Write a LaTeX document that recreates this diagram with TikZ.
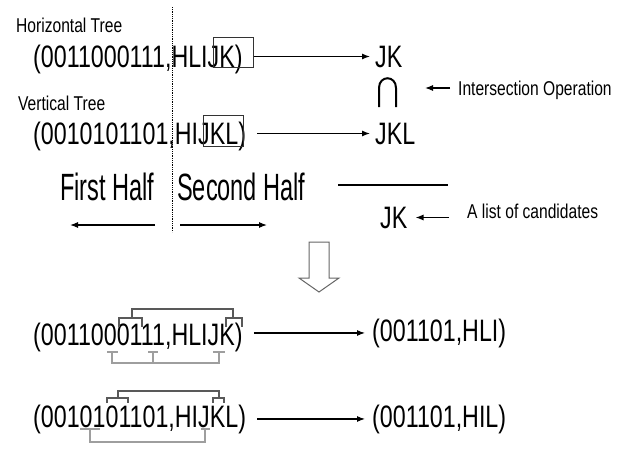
\documentclass[tikz,border=0pt]{standalone}
\usepackage{fontspec}
\setmainfont{Liberation Sans}
\newfontfamily\bigf{Liberation Sans}[FakeStretch=0.75]
\newfontfamily\halff{Liberation Sans}[FakeStretch=0.62]
\newfontfamily\smallf{Liberation Sans}[FakeStretch=0.78]
\usetikzlibrary{arrows.meta}
\begin{document}
\begin{tikzpicture}[x=1pt,y=-1pt,
  main/.style={inner sep=0pt, anchor=base west, font=\bigf\fontsize{31}{31}\selectfont},
  lab/.style={inner sep=0pt, anchor=base west, font=\smallf\fontsize{20}{20}\selectfont},
  half/.style={inner sep=0pt, anchor=base west, font=\halff\fontsize{38}{38}\selectfont},
  arr/.style={line width=1.1pt, -{Latex[length=8pt,width=6pt]}},
  darkbr/.style={draw=black!65, line width=1.6pt},
  lightbr/.style={draw=black!38, line width=1.6pt},
  boxline/.style={draw=black!80, line width=0.9pt},
]
\fill[white] (0,0) rectangle (630,448);

% labels and texts
\node[lab] (ht) at (16,32) {Horizontal Tree};
\node[main] (r1) at (33,67) {(0011000111,HLIJK)};
\node[main] (o1) at (375,67) {JK};
\node[lab] (vt) at (18,110) {Vertical Tree};
\node[main] (r2) at (33,144) {(0010101101,HIJKL)};
\node[main] (o2) at (375,144) {JKL};
\node[lab] (io) at (458,95) {Intersection Operation};
\node[half] (fh) at (60,200) {First Half};
\node[half] (sh) at (177,200) {Second Half};
\node[main] (cand) at (380,228) {JK};
\node[lab] (lc) at (467,218) {A list of candidates};
\node[main] (r3) at (33,345) {(0011000111,HLIJK)};
\node[main] (p3) at (372,341) {(001101,HLI)};
\node[main] (r4) at (33,427) {(0010101101,HIJKL)};
\node[main] (p4) at (372,427) {(001101,HIL)};

% boxes
\draw[boxline] (213,37) rectangle (253,67);
\draw[boxline] (203,115) rectangle (243,146);

% main arrows
\draw[arr] ([xshift=11pt]r1.east |- o1.west) -- ([xshift=-5pt]o1.west);
\draw[arr] ([xshift=11pt]r2.east |- o2.west) -- ([xshift=-5pt]o2.west);
\draw[arr] ([xshift=11pt]r3.east |- p3.west) -- ([xshift=-7pt]p3.west);
\draw[arr] ([xshift=11pt]r4.east |- p4.west) -- ([xshift=-7pt]p4.west);

% intersection symbol
\draw[line width=2pt] (379,107) -- (379,88) .. controls (379,75) and (396,75) .. (396,88) -- (396,107);
\coordinate (ioend) at (425,88);
\draw[arr] ([xshift=-8pt]io.west |- ioend) -- (ioend);

% dotted divider
\draw[densely dotted, line width=0.8pt] (172,7) -- (172,232);

% half arrows
\coordinate (fhtail) at (155,225);
\coordinate (fhtip) at (70,225);
\coordinate (shtail) at (180,225);
\coordinate (shtip) at (267,225);
\draw[arr] (fhtail) -- (fhtip);
\draw[arr] (shtail) -- (shtip);

% result line and candidates
\draw[line width=1.1pt] (338,185) -- (448,185);
\coordinate (candtip) at ([xshift=8pt]cand.east);
\draw[arr] ([xshift=-18pt]lc.west |- candtip) -- (candtip);

% block arrow
\draw[draw=black!60, line width=1pt, fill=white]
  (309,242) -- (329,242) -- (329,278) -- (339,278) -- (319,292) -- (299,278) -- (309,278) -- cycle;

% brackets row 3
\draw[darkbr] (132,318) -- (132,309) -- (233,309) -- (233,318);
\draw[darkbr] (119,327) -- (119,318) -- (142,318) -- (142,327);
\draw[darkbr] (226,327) -- (226,318) -- (242,318) -- (242,327);
\draw[lightbr] (112,352) -- (112,363) -- (219,363) -- (219,352);
\draw[lightbr] (153,352) -- (153,363);
\draw[lightbr] (107,352) -- (118,352);
\draw[lightbr] (148,352) -- (158,352);
\draw[lightbr] (213,352) -- (225,352);

% brackets row 4
\draw[darkbr] (118,398) -- (118,391) -- (219,391) -- (219,398);
\draw[darkbr] (107,403) -- (107,398) -- (128,398) -- (128,403);
\draw[darkbr] (213,403) -- (213,398) -- (224,398) -- (224,403);
\draw[lightbr] (80,429) -- (100,429);
\draw[lightbr] (90,429) -- (90,442) -- (205,442) -- (205,429);
\draw[lightbr] (201,429) -- (210,429);
\end{tikzpicture}
\end{document}
